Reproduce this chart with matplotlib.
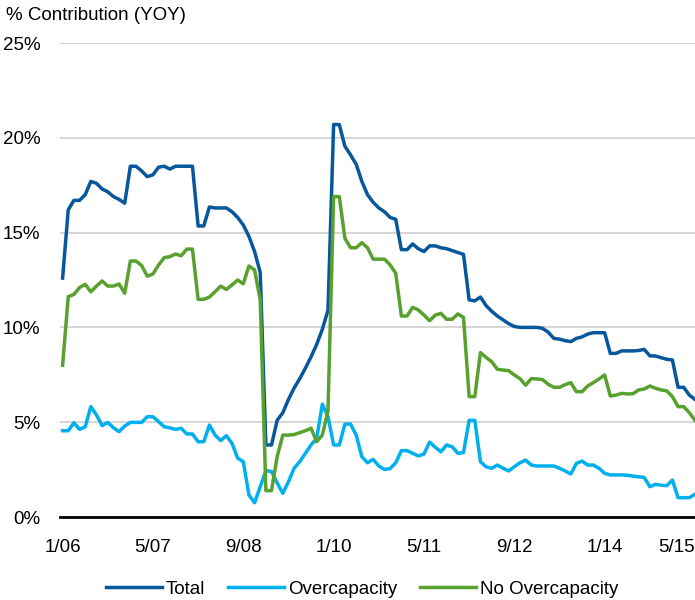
import matplotlib
matplotlib.use('Agg')
import matplotlib.pyplot as plt
import pandas as pd

# monthly, 1/06 .. 5/15
months = pd.date_range('2006-01-01', periods=113, freq='MS')
tick_labels = ['1/06', '5/07', '9/08', '1/10', '5/11', '9/12', '1/14', '5/15']

total = [12.6, 16.2, 16.7, 16.7, 17.0, 17.7, 17.6, 17.3, 17.15, 16.9, 16.75, 16.55,
         18.5, 18.5, 18.25, 17.95, 18.05, 18.45, 18.5, 18.35, 18.5, 18.5, 18.5, 18.5,
         15.35, 15.35, 16.35, 16.3, 16.3, 16.3, 16.1, 15.8, 15.4, 14.8, 14.0, 12.9,
         3.8, 3.8, 5.1, 5.5, 6.2, 6.8, 7.3, 7.85, 8.45, 9.1, 9.9, 10.9,
         20.7, 20.7, 19.55, 19.1, 18.6, 17.7, 17.0, 16.6, 16.3, 16.1, 15.8, 15.7,
         14.1, 14.1, 14.4, 14.15, 14.0, 14.3, 14.3, 14.2, 14.15, 14.05, 13.95, 13.85,
         11.45, 11.4, 11.6, 11.15, 10.85, 10.6, 10.4, 10.2, 10.05, 10.0, 10.0, 10.0,
         10.0, 9.95, 9.75, 9.42, 9.38, 9.3, 9.25, 9.42, 9.5, 9.65, 9.72, 9.72,
         9.72, 8.63, 8.63, 8.76, 8.76, 8.76, 8.78, 8.84, 8.5, 8.49, 8.4, 8.32,
         8.28, 6.84, 6.84, 6.43, 6.2]

overcap = [4.55, 4.55, 4.97, 4.62, 4.76, 5.82, 5.38, 4.82, 4.99, 4.71, 4.5, 4.8,
           4.99, 4.99, 4.99, 5.29, 5.29, 5.03, 4.76, 4.7, 4.62, 4.68, 4.38, 4.38,
           3.97, 3.97, 4.85, 4.32, 4.03, 4.29, 3.89, 3.1, 2.92, 1.16, 0.75, 1.6,
           2.44, 2.4, 1.8, 1.25, 1.86, 2.57, 2.92, 3.36, 3.8, 4.15, 5.95, 5.3,
           3.8, 3.8, 4.9, 4.9, 4.32, 3.18, 2.86, 3.04, 2.69, 2.51, 2.55, 2.86,
           3.5, 3.5, 3.36, 3.22, 3.32, 3.95, 3.68, 3.44, 3.8, 3.7, 3.36, 3.4,
           5.1, 5.1, 2.92, 2.65, 2.57, 2.74, 2.57, 2.43, 2.65, 2.86, 3.0, 2.74,
           2.69, 2.69, 2.69, 2.69, 2.57, 2.43, 2.27, 2.83, 2.95, 2.74, 2.74, 2.57,
           2.3, 2.22, 2.22, 2.22, 2.2, 2.16, 2.12, 2.09, 1.6, 1.72, 1.68, 1.65,
           1.95, 1.02, 1.02, 1.02, 1.2]

no_overcap = [8.0, 11.62, 11.74, 12.1, 12.27, 11.88, 12.18, 12.45, 12.18, 12.18, 12.29, 11.8,
              13.5, 13.5, 13.26, 12.7, 12.82, 13.29, 13.68, 13.73, 13.87, 13.78, 14.13, 14.13,
              11.48, 11.48, 11.6, 11.88, 12.18, 12.0, 12.24, 12.5, 12.3, 13.24, 13.03, 11.45,
              1.39, 1.39, 3.18, 4.32, 4.32, 4.35, 4.45, 4.55, 4.68, 3.97, 4.32, 5.6,
              16.9, 16.9, 14.7, 14.2, 14.2, 14.47, 14.2, 13.6, 13.6, 13.6, 13.3, 12.85,
              10.6, 10.6, 11.06, 10.92, 10.65, 10.35, 10.65, 10.74, 10.43, 10.43, 10.71, 10.53,
              6.35, 6.35, 8.67, 8.42, 8.19, 7.79, 7.75, 7.72, 7.49, 7.3, 6.95, 7.3,
              7.28, 7.25, 7.0, 6.84, 6.84, 6.98, 7.09, 6.61, 6.61, 6.91, 7.09, 7.28,
              7.49, 6.38, 6.43, 6.52, 6.49, 6.5, 6.7, 6.75, 6.91, 6.79, 6.7, 6.65,
              6.35, 5.82, 5.82, 5.5, 5.1]

plt.rcParams['font.family'] = ['Liberation Sans', 'DejaVu Sans']
fs = 13.5

fig = plt.figure(figsize=(6.95, 6.0), dpi=100)
ax = fig.add_axes([60 / 695, 1 - 517 / 600, 635 / 695, 474 / 600])

x = range(len(months))
ax.plot(x, total, color='#06579B', lw=2.5, label='Total', solid_joinstyle='round')
ax.plot(x, overcap, color='#00B0EE', lw=2.5, label='Overcapacity', solid_joinstyle='round')
ax.plot(x, no_overcap, color='#58A12E', lw=2.5, label='No Overcapacity', solid_joinstyle='round')

ax.set_xlim(-0.46, 112)
ax.set_ylim(0, 25)
ax.set_yticks([0, 5, 10, 15, 20, 25])
ax.set_yticklabels(['0%', '5%', '10%', '15%', '20%', '25%'], fontsize=fs)
ax.set_xticks(range(0, len(months), 16))
ax.set_xticklabels(tick_labels, fontsize=fs)
ax.get_xticklabels()[-1].set_ha('right')
ax.tick_params(axis='both', length=0)
ax.tick_params(axis='y', pad=14)
ax.tick_params(axis='x', pad=16)

ax.grid(axis='y', color='#D0D0D0', lw=1.2)
ax.set_axisbelow(True)
for s in ['top', 'right', 'left']:
    ax.spines[s].set_visible(False)
ax.spines['bottom'].set_color('black')
ax.spines['bottom'].set_linewidth(2.0)
ax.spines['bottom'].set_zorder(5)

fig.text(6 / 695, 1 - 16 / 600, '% Contribution (YOY)', fontsize=fs, va='center', ha='left')

fig.legend(loc='center', bbox_to_anchor=(362 / 695, 1 - 589 / 600), ncol=3, frameon=False,
           fontsize=fs, handlelength=3.0, handletextpad=0.2, columnspacing=1.2)

fig.savefig('out.png', dpi=100)
